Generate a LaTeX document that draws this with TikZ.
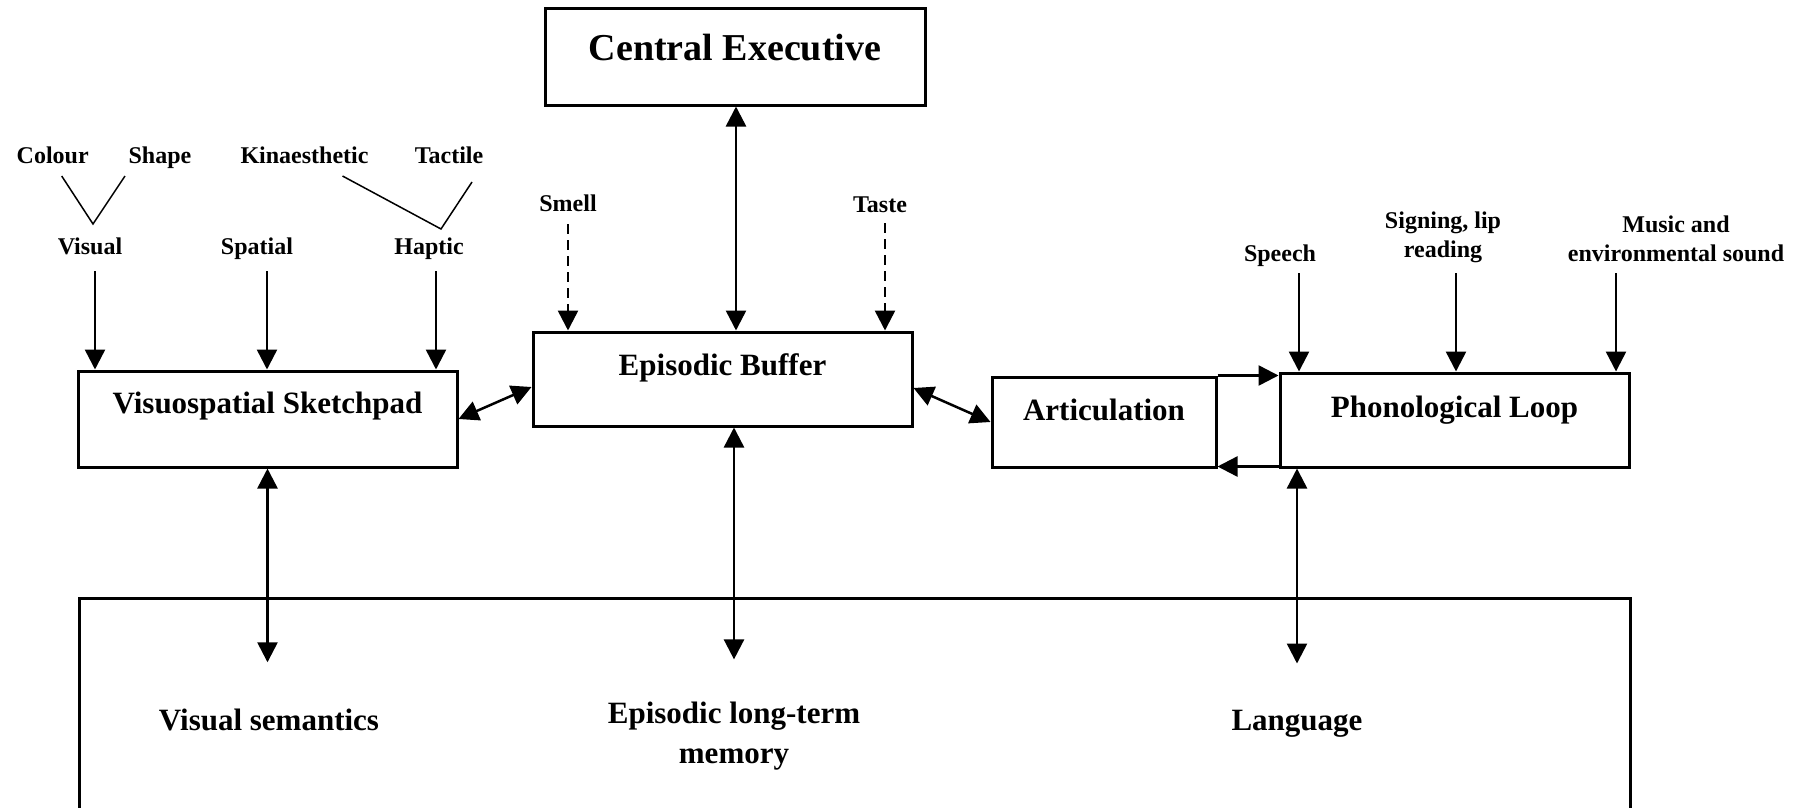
\documentclass[tikz,border=0pt]{standalone}
\usepackage{fontspec}
\setmainfont{Liberation Serif}
\usetikzlibrary{arrows.meta,calc}

\begin{document}
\begin{tikzpicture}[x=1pt,y=-1pt,
		box/.style={draw,line width=3pt,inner sep=0pt,font=\bfseries\fontsize{31}{38}\selectfont},
		lbl/.style={font=\bfseries\fontsize{24}{29}\selectfont,align=center,anchor=base,inner sep=0pt},
		big/.style={font=\bfseries\fontsize{31}{40}\selectfont,align=center,anchor=base,inner sep=0pt},
		arr/.style={line width=2.5pt,-{Triangle[length=20pt,width=20pt]}},
		dbl/.style={line width=2.5pt,{Triangle[length=20pt,width=20pt]}-{Triangle[length=20pt,width=20pt]}},
		link/.style={line width=1.5pt}]
		\useasboundingbox (0,0) rectangle (1809,808);

		% boxes
		\node[box,minimum width=380pt,text height=51pt,text depth=45pt,font=\bfseries\fontsize{38}{46}\selectfont] (ce) at (735,57) {Central Executive};
		\node[box,minimum width=379pt,text height=43pt,text depth=51pt] (eb) at (722.5,379) {Episodic Buffer};
		\node[box,minimum width=379pt,text height=42pt,text depth=54pt] (vssp) at (267.5,419) {Visuospatial Sketchpad};
		\node[box,minimum width=224pt,text height=43pt,text depth=47pt] (art) at (1104,422) {Articulation};
		\node[box,minimum width=349pt,text height=44pt,text depth=50pt] (pl) at (1454.5,420) {Phonological Loop};
		\node[box,minimum width=1551pt,minimum height=320pt,anchor=north west] (ltm) at (78,597) {};

		% inputs
		\node[lbl] (colour) at (52.7,163) {Colour};
		\node[lbl] (shape) at (160,163) {Shape};
		\node[lbl] (kin) at (304.5,163) {Kinaesthetic};
		\node[lbl] (tac) at (449,163) {Tactile};
		\node[lbl] (vis) at (90,254) {Visual};
		\node[lbl] (spa) at (257,254) {Spatial};
		\node[lbl] (hap) at (429,254) {Haptic};
		\node[lbl] (smell) at (568,211) {Smell};
		\node[lbl] (taste) at (880,212) {Taste};
		\node[lbl] (speech) at (1280,261) {Speech};
		\node[lbl,anchor=south] (sign) at (1443,263) {Signing, lip\\reading};
		\node[lbl,anchor=south] (music) at (1676,262) {Music and\\environmental sound};

		% long-term stores
		\node[big] (vsem) at (269,730) {Visual semantics};
		\node[big,anchor=south] (elt) at (734,770) {Episodic long-term\\memory};
		\node[big] (lang) at (1297,730) {Language};

		\coordinate (vjoin) at (93,224);
		\coordinate (hjoin) at (441,229);
		\draw[link] ($(colour.base)+(9,13)$) -- (vjoin) -- ($(shape.base)+(-35,13)$);
		\draw[link] ($(kin.base)+(38,13)$) -- (hjoin) -- ($(tac.base)+(23,19)$);

		\foreach \src/\dx in {vis/5, spa/10, hap/7}{
			\draw[arr] ($(\src.base)+(\dx,17)$) coordinate (a) -- (a |- vssp.north);
		}
		\draw[arr,dash pattern=on 10pt off 6pt] ($(smell.base)+(0,13)$) coordinate (a) -- (a |- eb.north);
		\draw[arr,dash pattern=on 10pt off 6pt] ($(taste.base)+(5,11)$) coordinate (a) -- (a |- eb.north);
		\draw[arr] ($(speech.base)+(19,12)$) coordinate (a) -- (a |- pl.north);
		\draw[arr] ($(sign.south)+(13,10)$) coordinate (a) -- (a |- pl.north);
		\draw[arr] ($(music.south)+(-60,11)$) coordinate (a) -- (a |- pl.north);

		% links between components
		\draw[dbl] ([xshift=1pt]ce.south) -- ([xshift=1pt]ce.south |- eb.north);
		\draw[dbl] (vssp.east) -- ([yshift=-8pt]eb.west);
		\draw[dbl] ([yshift=-9pt]eb.east) -- (art.west);
		\draw[arr] (art.north east) -- (art.north east -| pl.west);
		\draw[arr] ([yshift=2pt]pl.south west) -- ([yshift=2pt]pl.south west -| art.east);

		\draw[dbl] (vssp.south) -- ($(vssp.south |- vsem.north)+(0,-46)$);
		\draw[dbl] (elt.north |- eb.south) -- ($(elt.north)+(0,-42)$);
		\draw[dbl] (lang.north |- pl.south) -- ($(lang.north)+(0,-46)$);
\end{tikzpicture}
\end{document}
